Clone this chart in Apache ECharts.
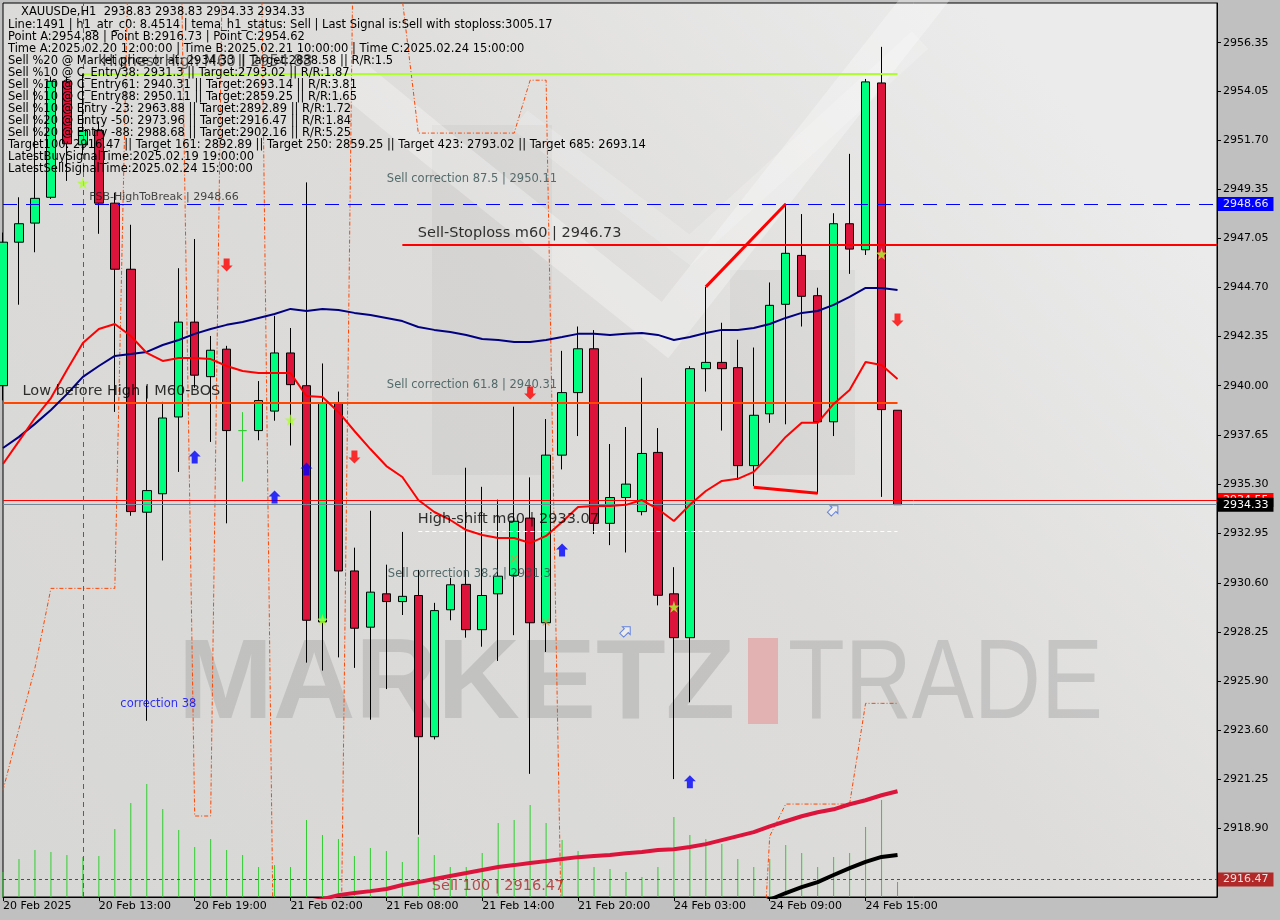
<!DOCTYPE html>
<html><head><meta charset="utf-8">
<script src="https://cdn.jsdelivr.net/npm/echarts@6/dist/echarts.min.js"></script>
<style>html,body{margin:0;padding:0;background:#c0c0c0;overflow:hidden}#c{width:1280px;height:920px}</style>
</head><body><div id="c"></div>
<script>
// ---------------- DATA ----------------
const barTimes = [
 '2025.02.20 07:00','2025.02.20 08:00','2025.02.20 09:00','2025.02.20 10:00','2025.02.20 11:00','2025.02.20 12:00','2025.02.20 13:00','2025.02.20 14:00','2025.02.20 15:00','2025.02.20 16:00','2025.02.20 17:00','2025.02.20 18:00','2025.02.20 19:00','2025.02.20 20:00','2025.02.20 21:00','2025.02.20 22:00','2025.02.20 23:00',
 '2025.02.21 01:00','2025.02.21 02:00','2025.02.21 03:00','2025.02.21 04:00','2025.02.21 05:00','2025.02.21 06:00','2025.02.21 07:00','2025.02.21 08:00','2025.02.21 09:00','2025.02.21 10:00','2025.02.21 11:00','2025.02.21 12:00','2025.02.21 13:00','2025.02.21 14:00','2025.02.21 15:00','2025.02.21 16:00','2025.02.21 17:00','2025.02.21 18:00','2025.02.21 19:00','2025.02.21 20:00','2025.02.21 21:00','2025.02.21 22:00','2025.02.21 23:00',
 '2025.02.24 01:00','2025.02.24 02:00','2025.02.24 03:00','2025.02.24 04:00','2025.02.24 05:00','2025.02.24 06:00','2025.02.24 07:00','2025.02.24 08:00','2025.02.24 09:00','2025.02.24 10:00','2025.02.24 11:00','2025.02.24 12:00','2025.02.24 13:00','2025.02.24 14:00','2025.02.24 15:00','2025.02.24 16:00','2025.02.24 17:00'
];
const opens  = [2940.00,2946.84,2947.75,2948.98,2954.51,2951.48,2952.16,2948.70,2945.55,2933.97,2934.85,2938.51,2943.03,2940.43,2941.74,2937.86,2937.86,2938.79,2941.56,2940.00,2928.74,2939.17,2931.17,2928.49,2930.08,2929.71,2930.00,2923.27,2929.32,2930.53,2928.37,2930.08,2930.96,2933.69,2928.70,2936.69,2939.67,2941.76,2933.44,2934.67,2934.00,2936.82,2930.08,2927.99,2940.81,2941.11,2940.86,2936.19,2938.66,2943.88,2946.21,2944.29,2938.28,2947.72,2946.48,2954.43,2938.83];
const highs  = [2947.30,2948.98,2954.18,2954.73,2954.73,2954.88,2952.60,2949.20,2947.67,2940.00,2939.23,2945.60,2946.99,2942.37,2941.90,2938.74,2940.22,2943.33,2942.75,2949.69,2941.06,2939.72,2932.28,2934.04,2931.47,2933.03,2931.22,2929.65,2930.84,2936.09,2935.18,2934.57,2939.00,2935.63,2938.41,2941.66,2942.82,2942.65,2937.22,2938.03,2940.38,2937.98,2931.35,2940.93,2944.71,2943.00,2942.19,2941.82,2944.92,2948.68,2948.18,2944.67,2948.22,2951.05,2954.62,2956.15,2938.83];
const lows   = [2939.30,2943.86,2946.36,2948.90,2949.76,2951.00,2947.24,2938.75,2933.80,2924.03,2931.67,2935.89,2939.90,2937.32,2933.44,2935.43,2937.40,2938.33,2937.15,2926.80,2926.42,2927.05,2926.55,2924.08,2925.54,2929.07,2918.60,2923.14,2928.82,2927.99,2927.56,2926.88,2928.11,2921.50,2927.31,2936.01,2937.60,2932.93,2932.40,2932.05,2933.82,2929.53,2921.25,2924.91,2939.72,2937.86,2935.51,2935.21,2938.23,2938.16,2942.82,2934.85,2937.60,2945.33,2946.23,2934.70,2934.33];
const closes = [2946.84,2947.72,2948.93,2954.51,2951.53,2952.16,2948.70,2945.55,2934.00,2935.00,2938.46,2943.03,2940.50,2941.69,2937.86,2937.86,2939.29,2941.56,2940.05,2928.82,2939.17,2931.17,2928.44,2930.16,2929.71,2929.96,2923.27,2929.28,2930.51,2928.37,2930.00,2930.92,2933.54,2928.70,2936.69,2939.67,2941.76,2933.44,2934.67,2935.31,2936.77,2930.01,2927.99,2940.81,2941.11,2940.81,2936.19,2938.59,2943.83,2946.31,2944.26,2938.28,2947.72,2946.51,2954.48,2938.86,2934.33];
const tickVolumes = [25,38,47,45,42,40,41,68,94,113,88,67,50,58,47,42,30,32,30,77,62,58,41,49,46,35,60,42,30,30,44,74,77,92,74,57,46,30,28,25,20,30,80,62,58,53,38,30,38,52,44,30,40,44,70,97,15];
const maFastRed = [2936.27,2937.36,2938.46,2939.41,2940.75,2942.04,2942.70,2942.94,2942.37,2941.56,2941.18,2941.32,2941.32,2941.27,2940.94,2940.70,2940.60,2940.60,2940.60,2939.51,2939.46,2938.75,2937.84,2936.98,2936.17,2935.65,2934.55,2933.98,2933.60,2933.12,2932.88,2932.74,2932.74,2932.50,2932.84,2933.50,2934.22,2934.27,2934.27,2934.32,2934.55,2934.12,2933.55,2934.32,2934.98,2935.46,2935.56,2935.89,2936.70,2937.56,2938.23,2938.23,2939.13,2939.80,2941.13,2940.99,2940.32];
const maSlowNavy = [2937.03,2937.56,2938.18,2938.84,2939.60,2940.42,2940.94,2941.42,2941.51,2941.61,2941.94,2942.18,2942.47,2942.70,2942.90,2943.04,2943.23,2943.42,2943.66,2943.56,2943.66,2943.61,2943.47,2943.37,2943.23,2943.08,2942.80,2942.66,2942.56,2942.42,2942.23,2942.18,2942.08,2942.08,2942.18,2942.32,2942.47,2942.47,2942.42,2942.47,2942.51,2942.42,2942.18,2942.32,2942.51,2942.66,2942.66,2942.75,2942.94,2943.23,2943.47,2943.56,2943.85,2944.23,2944.66,2944.66,2944.56];
const maCrimson = [null,null,null,null,null,null,null,null,null,null,null,null,null,null,null,null,null,null,2915.20,2915.38,2915.53,2915.72,2915.82,2915.91,2916.01,2916.20,2916.34,2916.49,2916.63,2916.77,2916.92,2917.06,2917.15,2917.25,2917.34,2917.44,2917.53,2917.58,2917.63,2917.72,2917.77,2917.87,2917.91,2918.01,2918.15,2918.34,2918.53,2918.72,2919.00,2919.24,2919.48,2919.67,2919.81,2920.05,2920.24,2920.48,2920.67];
const maBlack = [null,null,null,null,null,null,null,null,null,null,null,null,null,null,null,null,null,null,null,null,null,null,null,null,null,null,null,null,null,null,null,null,null,null,null,null,null,null,null,null,null,null,null,null,null,null,2914.90,2915.20,2915.50,2915.82,2916.10,2916.34,2916.68,2917.01,2917.30,2917.54,2917.63];
const bandLine = [2920.72,2923.65,2926.55,2930.34,2930.34,2930.34,2930.34,2930.34,2966.0,2968.0,2968.0,2968.0,2919.49,2919.49,2975.0,2975.0,2971.5,2908.3,2905.0,2905.0,2905.0,2902.8,2966.0,2966.0,2962.0,2958.4,2952.04,2952.04,2952.04,2952.04,2952.04,2952.04,2952.04,2954.56,2954.56,2912.1,2905.0,2905.0,2905.0,2905.0,2905.0,2905.0,2905.0,2905.0,2905.0,2905.0,2905.0,2905.0,2918.53,2920.06,2920.06,2920.06,2920.06,2920.06,2924.86,2924.86,2924.86];
const yTickLabels = ['2956.35','2954.05','2951.70','2949.35','2947.05','2944.70','2942.35','2940.00','2937.65','2935.30','2932.95','2930.60','2928.25','2925.90','2923.60','2921.25','2918.90'];
const xTickIndex = [0,6,12,18,24,30,36,42,48,54];
const xTickText = ['20 Feb 2025','20 Feb 13:00','20 Feb 19:00','21 Feb 02:00','21 Feb 08:00','21 Feb 14:00','21 Feb 20:00','24 Feb 03:00','24 Feb 09:00','24 Feb 15:00'];
const levelHighestHigh = 2954.88, levelFsbHigh = 2948.66, levelStoploss = 2946.73, levelLowBeforeHigh = 2939.19;
const levelSellLine = 2934.55, levelBid = 2934.33, levelHighShift = 2933.07, levelSell100 = 2916.47;
const timeAIndex = 5;
const trendUp = [[44,2944.71],[49,2948.66]];
const trendFlat = [[47,2935.16],[51,2934.87]];
const sellArrows = [[14,2945.75],[22,2936.60],[33,2939.65],[56,2943.13]];
const buyArrows = [[12,2936.60],[17,2934.70],[19,2936.03],[35,2932.17],[43,2921.12]];
const hollowArrows = [[39,2928.31],[52,2934.08]];
const stars = [[5,2949.66],[18,2938.37],[20,2928.84],[42,2929.46],[55,2946.28]];
const crosses = [[32,2931.74],[34,2928.74]];
const annotations = [
 ['Highest High M60 | 2954.88',6,2954.88],
 ['FSB-HighToBreak | 2948.66',5,2948.66],
 ['Sell correction 87.5 | 2950.11',24,2950.11],
 ['Sell-Stoploss m60 | 2946.73',26,2946.73],
 ['Low before High | M60-BOS',1,2939.19],
 ['Sell correction 61.8 | 2940.31',24,2940.31],
 ['High-shift m60 | 2933.07',26,2933.07],
 ['Sell correction 38.2 | 2931.3',24,2931.3],
 ['correction 38',7,2925.07],
 ['Sell 100 | 2916.47',27,2916.47]
];
const infoTitle = 'XAUUSDe,H1  2938.83 2938.83 2934.33 2934.33';
const infoLines = [
 'Line:1491 | h1_atr_c0: 8.4514 | tema_h1_status: Sell | Last Signal is:Sell with stoploss:3005.17',
 'Point A:2954.88 | Point B:2916.73 | Point C:2954.62',
 'Time A:2025.02.20 12:00:00 | Time B:2025.02.21 10:00:00 | Time C:2025.02.24 15:00:00',
 'Sell %20 @ Market price or at: 2934.33 || Target:2838.58 || R/R:1.5',
 'Sell %10 @ C_Entry38: 2931.3 || Target:2793.02 || R/R:1.87',
 'Sell %10 @ C_Entry61: 2940.31 || Target:2693.14 || R/R:3.81',
 'Sell %10 @ C_Entry88: 2950.11 || Target:2859.25 || R/R:1.65',
 'Sell %10 @ Entry -23: 2963.88 || Target:2892.89 || R/R:1.72',
 'Sell %20 @ Entry -50: 2973.96 || Target:2916.47 || R/R:1.84',
 'Sell %20 @ Entry -88: 2988.68 || Target:2902.16 || R/R:5.25',
 'Target100: 2916.47 || Target 161: 2892.89 || Target 250: 2859.25 || Target 423: 2793.02 || Target 685: 2693.14',
 'LatestBuySignalTime:2025.02.19 19:00:00',
 'LatestSellSignalTime:2025.02.24 15:00:00'
];

// ---------------- STYLE / BUILD ----------------
const FONT = 'DejaVu Sans';
const PAD = 20;
const categories = barTimes.concat(Array.from({length: PAD}, () => ''));
const candleData = opens.map((o, i) => {
  const item = {value: [o, closes[i], lows[i], highs[i]]};
  if (o === closes[i]) item.itemStyle = {color: '#32cd32', color0: '#32cd32', borderColor: '#32cd32', borderColor0: '#32cd32'};
  return item;
});
const annStyle = [
 {dx: 4, dy: -3.5, va: 'bottom', size: 15, color: 'rgba(20,20,20,0.85)'},
 {dx: 7, dy: -1, va: 'bottom', size: 11, color: '#1a1a1a'},
 {dx: 1, dy: 0, va: 'top', size: 11.5, color: '#2f4f4f'},
 {dx: 0, dy: -3, va: 'bottom', size: 14.5, color: '#000'},
 {dx: 4, dy: -3.5, va: 'bottom', size: 14.5, color: '#000'},
 {dx: 1, dy: 0, va: 'top', size: 11.5, color: '#2f4f4f'},
 {dx: 0, dy: -3.5, va: 'bottom', size: 14.5, color: '#000'},
 {dx: 2, dy: 0, va: 'top', size: 11.5, color: '#2f4f4f'},
 {dx: 6, dy: 0, va: 'top', size: 11.5, color: '#0000ff'},
 {dx: -2, dy: 0, va: 'top', size: 14.5, color: '#a52a2a'}
];
const annData = annotations.map((a, k) => ({
  value: [a[1], a[2]],
  label: {show: true, formatter: a[0], position: [annStyle[k].dx, annStyle[k].dy], align: 'left',
          verticalAlign: annStyle[k].va, fontSize: annStyle[k].size, fontFamily: FONT, color: annStyle[k].color}
}));

function boxLabel(text, bg, fg) {
  return {show: true, position: 'end', distance: 1, formatter: text, backgroundColor: bg, color: fg,
          padding: [2, 5, 1, 5], fontSize: 11, fontFamily: FONT};
}
const markLines = [
  [{coord: [timeAIndex, levelHighestHigh], lineStyle: {color: '#adff2f', width: 2, type: 'solid'}}, {coord: [56, levelHighestHigh]}],
  {yAxis: levelFsbHigh, lineStyle: {color: '#0000ff', width: 1, type: [14, 9]}, label: boxLabel(String(levelFsbHigh), '#0000ff', '#e8e8ff')},
  [{coord: [25, levelStoploss], lineStyle: {color: '#ff0000', width: 2, type: 'solid'}}, {coord: [categories.length - 1, levelStoploss]}],
  [{coord: [0, levelLowBeforeHigh], lineStyle: {color: '#ff4500', width: 2, type: 'solid'}}, {coord: [56, levelLowBeforeHigh]}],
  {yAxis: levelSellLine, lineStyle: {color: '#ff0000', width: 1, type: 'solid'}, label: boxLabel(String(levelSellLine), '#ff0000', '#ffffff')},
  {yAxis: levelBid, lineStyle: {color: '#778899', width: 1, type: 'solid'}, label: boxLabel(String(levelBid), '#000000', '#ffffff')},
  [{coord: [26, levelHighShift], lineStyle: {color: '#ffffff', width: 1, type: [4, 3]}}, {coord: [56, levelHighShift]}],
  {yAxis: levelSell100, lineStyle: {color: '#a52a2a', width: 1, type: [3, 3]}, label: boxLabel(String(levelSell100), '#b22828', '#f0e0e0')},
  {xAxis: timeAIndex, lineStyle: {color: '#a0309a', width: 1, type: [5, 4]}}
];

const DOWN = 'path://M3,0 L9,0 L9,7 L12,7 L6,13 L0,7 L3,7 Z';
const UP = 'path://M6,0 L12,6 L9,6 L9,13 L3,13 L3,6 L0,6 Z';
const STAR = 'path://M50,0 L61,35 L98,35 L68,57 L79,91 L50,70 L21,91 L32,57 L2,35 L39,35 Z';
const XMARK = 'path://M0,0 L2,0 L5,3 L8,0 L10,0 L6,4 L10,8 L8,8 L5,5 L2,8 L0,8 L4,4 Z';

const chart = echarts.init(document.getElementById('c'), null, {renderer: 'canvas'});
const gray = 'rgba(120,120,120,0.07)';
chart.setOption({
  animation: false,
  backgroundColor: '#c0c0c0',
  grid: {left: 3, top: 3, right: 63, bottom: 23, show: true, borderColor: '#000', borderWidth: 1,
    backgroundColor: new echarts.graphic.LinearGradient(0, 1, 0.8, 0, [
      {offset: 0, color: '#d7d7d5'}, {offset: 0.6, color: '#dddcda'}, {offset: 1, color: '#ebebeb'}])},
  xAxis: {type: 'category', data: categories, boundaryGap: false,
    axisLine: {show: true, lineStyle: {color: '#000'}},
    axisTick: {show: true, length: 4, lineStyle: {color: '#000'}, interval: (i) => xTickIndex.indexOf(i) >= 0},
    axisLabel: {show: true, interval: (i) => xTickIndex.indexOf(i) >= 0, align: 'left', margin: 4,
      color: '#000', fontSize: 11, fontFamily: FONT,
      formatter: (v, i) => { const k = xTickIndex.indexOf(i); return k >= 0 ? xTickText[k] : ''; }},
    splitLine: {show: false}},
  yAxis: [
    {type: 'value', position: 'right', min: 2915.63, max: 2958.24, scale: true,
      axisLine: {show: true, lineStyle: {color: '#000'}},
      axisTick: {show: true, length: 4, lineStyle: {color: '#000'}, customValues: yTickLabels.map(Number)},
      axisLabel: {show: true, margin: 6, color: '#000', fontSize: 11, fontFamily: FONT,
        customValues: yTickLabels.map(Number), formatter: (v) => v.toFixed(2)},
      splitLine: {show: false}},
    {type: 'value', min: 0, max: 894, show: false, splitLine: {show: false}}
  ],
  graphic: [
    {type: 'rect', z: 1, silent: true, shape: {x: 432, y: 125, width: 120, height: 350}, style: {fill: gray}},
    {type: 'rect', z: 1, silent: true, shape: {x: 730, y: 270, width: 125, height: 205}, style: {fill: gray}},
    {type: 'polyline', z: 1, silent: true, shape: {points: [[330, 60], [440, 150], [665, 330], [940, -20]]},
      style: {stroke: 'rgba(255,255,255,0.3)', lineWidth: 40, fill: null}},
    {type: 'polyline', z: 1, silent: true, shape: {points: [[520, 120], [690, 250], [920, 40]]},
      style: {stroke: 'rgba(255,255,255,0.18)', lineWidth: 24, fill: null}},
    {type: 'text', z: 1, silent: true, x: 178, y: 630, style: {text: 'MARKETZ', font: 'bold 114px "Liberation Sans"', fill: 'rgba(165,165,165,0.45)'}},
    {type: 'rect', z: 1, silent: true, shape: {x: 748, y: 638, width: 30, height: 86}, style: {fill: 'rgba(228,150,150,0.6)'}},
    {type: 'text', z: 1, silent: true, x: 788, y: 630, scaleX: 0.815, style: {text: 'TRADE', font: '114px "Liberation Sans"', fill: 'rgba(165,165,165,0.45)'}},
    {type: 'text', z: 20, silent: true, x: 21, y: 6, style: {text: infoTitle, font: '11.5px "DejaVu Sans"', fill: '#000'}},
    {type: 'text', z: 20, silent: true, x: 8, y: 19, style: {text: infoLines.join('\n'), font: '11.5px "DejaVu Sans"', lineHeight: 12, fill: '#000'}}
  ],
  series: [
    {type: 'bar', name: 'vol', yAxisIndex: 1, data: tickVolumes, barWidth: 1, itemStyle: {color: '#32cd32'}, z: 2, silent: true},
    {type: 'line', name: 'band', data: bandLine, showSymbol: false, symbol: 'none', z: 3, silent: true,
      lineStyle: {color: '#ff4500', width: 1, type: [4, 2, 1, 2]}},
    {type: 'candlestick', name: 'XAUUSDe', data: candleData, barWidth: 9, z: 4, silent: true,
      itemStyle: {color: '#00ff7f', color0: '#dc143c', borderColor: '#000', borderColor0: '#000', borderWidth: 1}},
    {type: 'line', name: 'maNavy', data: maSlowNavy, symbol: 'none', z: 5, lineStyle: {color: '#000080', width: 2}, silent: true},
    {type: 'line', name: 'maRed', data: maFastRed, symbol: 'none', z: 5, lineStyle: {color: '#ff0000', width: 2}, silent: true},
    {type: 'line', name: 'maCrimson', data: maCrimson, symbol: 'none', z: 5, lineStyle: {color: '#dc143c', width: 4}, silent: true},
    {type: 'line', name: 'maBlack', data: maBlack, symbol: 'none', z: 5, lineStyle: {color: '#000000', width: 4}, silent: true},
    {type: 'line', name: 'trendUp', data: trendUp, symbol: 'none', z: 6, lineStyle: {color: '#ff0000', width: 3}, silent: true},
    {type: 'line', name: 'trendFlat', data: trendFlat, symbol: 'none', z: 6, lineStyle: {color: '#ff0000', width: 3}, silent: true},
    {type: 'line', name: 'levels', data: [], z: 6, silent: true,
      markLine: {silent: true, symbol: ['none', 'none'], label: {show: false}, animation: false, data: markLines}},
    {type: 'scatter', name: 'sell', data: sellArrows, symbol: DOWN, symbolSize: [12, 13], itemStyle: {color: '#ff0000'}, z: 7, silent: true},
    {type: 'scatter', name: 'buy', data: buyArrows, symbol: UP, symbolSize: [12, 13], itemStyle: {color: '#0000ff'}, z: 7, silent: true},
    {type: 'scatter', name: 'hollow', data: hollowArrows, symbol: UP, symbolSize: [11, 12], symbolRotate: -45,
      itemStyle: {color: 'rgba(255,255,255,0.6)', borderColor: '#4169e1', borderWidth: 1}, z: 7, silent: true},
    {type: 'scatter', name: 'stars', data: stars, symbol: STAR, symbolSize: 12, itemStyle: {color: '#adff2f'}, z: 7, silent: true},
    {type: 'scatter', name: 'x', data: crosses, symbol: XMARK, symbolSize: [8, 7], itemStyle: {color: '#e0903a'}, z: 7, silent: true},
    {type: 'scatter', name: 'ann', data: annData, symbolSize: 1, itemStyle: {color: 'rgba(0,0,0,0)'}, z: 8, silent: true}
  ]
});
</script></body></html>
